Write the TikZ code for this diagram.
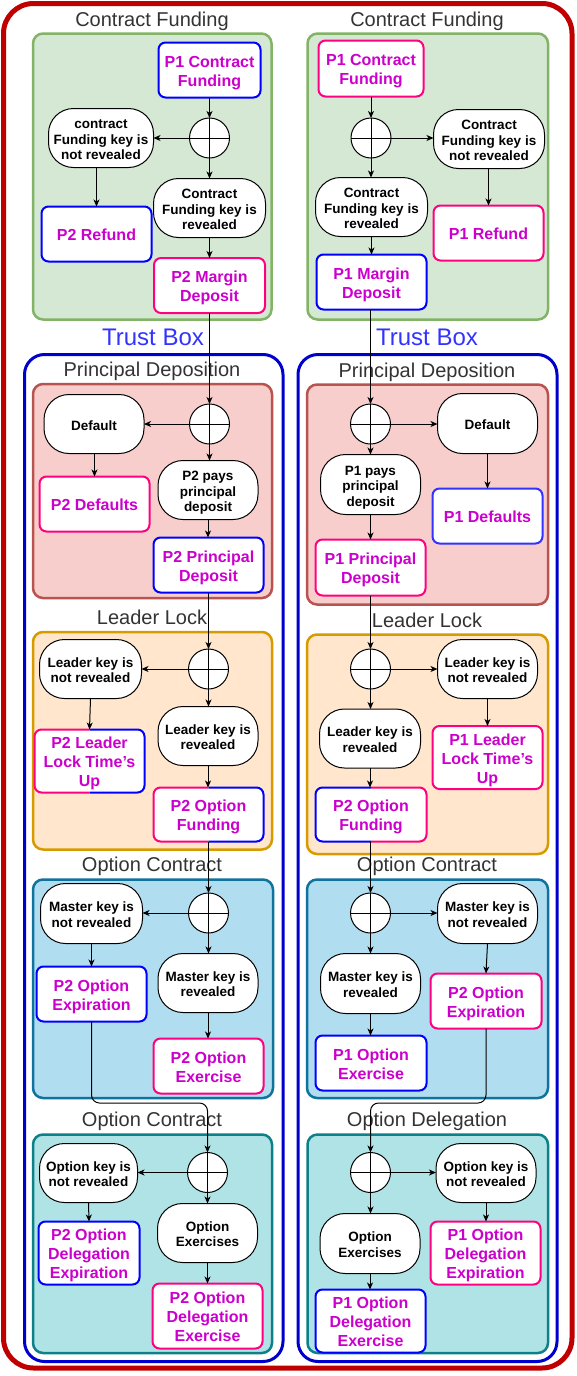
\documentclass[tikz,border=0pt]{standalone}
\usepackage{fontspec}
\setmainfont{Liberation Sans}
\usetikzlibrary{arrows.meta}
\definecolor{mag}{HTML}{CC00CC}
\definecolor{bluec}{HTML}{0000FF}
\definecolor{lblue}{HTML}{3333FF}
\definecolor{pinkc}{HTML}{FF0080}
\definecolor{outerred}{HTML}{C00000}
\definecolor{tbblue}{HTML}{0000CC}
\definecolor{tbtext}{HTML}{3333FF}
\definecolor{titlegray}{HTML}{333333}
\definecolor{gfill}{HTML}{D5E8D4}\definecolor{gline}{HTML}{82B366}
\definecolor{rfill}{HTML}{F8CECC}\definecolor{rline}{HTML}{B85450}
\definecolor{ofill}{HTML}{FFE6CC}\definecolor{oline}{HTML}{D79B00}
\definecolor{bfill}{HTML}{B1DDF0}\definecolor{bline}{HTML}{10739E}
\definecolor{tfill}{HTML}{B0E3E6}\definecolor{tline}{HTML}{0E8088}
% node text: extra height on top lowers the centred text block by 3pt
\newcommand\bt[1]{\raisebox{0pt}[\dimexpr\height+6pt\relax][\depth]{\begin{tabular}{@{}c@{}}#1\end{tabular}}}
\newcommand\ot[1]{\raisebox{0pt}[\dimexpr\height+6pt\relax][\depth]{\begin{tabular}{@{}c@{}}#1\end{tabular}}}
\newcommand\splitborder[3]{%
  \begin{scope}
    \clip ([shift={(-4,-4)}]#1.north west) rectangle ([shift={(0,4)}]#1.south);
    \draw[draw=#2, line width=2pt, rounded corners=7pt] (#1.north west) rectangle (#1.south east);
  \end{scope}
  \begin{scope}
    \clip ([shift={(0,-4)}]#1.north) rectangle ([shift={(4,4)}]#1.south east);
    \draw[draw=#3, line width=2pt, rounded corners=7pt] (#1.north west) rectangle (#1.south east);
  \end{scope}}
\begin{document}
\begin{tikzpicture}[x=1pt,y=-1pt,
  grptitle/.style={font=\fontsize{20}{24}\selectfont, text=titlegray, inner sep=0pt, anchor=base},
  tbtitle/.style={font=\fontsize{24}{28}\selectfont, text=tbtext, inner sep=0pt, anchor=base},
  grp/.style={rounded corners=10pt, line width=2.5pt},
  box/.style={rectangle, rounded corners=7pt, fill=white, line width=2pt,
    font=\bfseries\fontsize{16}{19}\selectfont, text=mag, minimum width=110pt,
    minimum height=55pt, inner sep=0pt, outer sep=0pt},
  oval/.style={rectangle, rounded corners=25pt, fill=white, draw=black, line width=1pt,
    font=\bfseries\fontsize{13.5}{15.5}\selectfont, minimum width=100pt,
    minimum height=59pt, inner sep=0pt, outer sep=0pt},
  xorn/.style={circle, draw=black, fill=white, line width=1pt, minimum size=40pt,
    inner sep=0pt, outer sep=0pt,
    path picture={\draw[line width=0.8pt] (path picture bounding box.north) -- (path picture bounding box.south)
      (path picture bounding box.west) -- (path picture bounding box.east);}},
  conn/.style={draw=black, line width=1pt, -{Stealth[length=7pt,width=6pt,inset=2pt]}}]
\useasboundingbox (0,0) rectangle (577,1376);
\fill[white] (0,0) rectangle (577,1376);
% outer frame
\draw[draw=outerred, line width=5pt, rounded corners=30pt] (3.5,3.5) rectangle (572,1368);
% trust boxes
\draw[draw=tbblue, line width=3pt, rounded corners=20pt] (24.5,354.5) rectangle (283,1361.5);
\draw[draw=tbblue, line width=3pt, rounded corners=20pt] (298,354.5) rectangle (557,1361.5);
\node[tbtitle] (tbl) at (153,345) {Trust Box};
\node[tbtitle] (tbr) at (427,345) {Trust Box};
% group containers
\draw[grp, fill=gfill, draw=gline] (33,33.5) rectangle (271.5,319.5);
\draw[grp, fill=gfill, draw=gline] (307.5,33.5) rectangle (548,319.5);
\draw[grp, fill=rfill, draw=rline] (33,384) rectangle (272,598);
\draw[grp, fill=rfill, draw=rline] (307,384.5) rectangle (548,604.5);
\draw[grp, fill=ofill, draw=oline] (33,632) rectangle (272,849.5);
\draw[grp, fill=ofill, draw=oline] (307,634.5) rectangle (548,854);
\draw[grp, fill=bfill, draw=bline] (33,879.5) rectangle (273,1098);
\draw[grp, fill=bfill, draw=bline] (307,879.5) rectangle (548,1098);
\draw[grp, fill=tfill, draw=tline] (33,1134.5) rectangle (272,1353);
\draw[grp, fill=tfill, draw=tline] (307.5,1134.5) rectangle (548,1353);
% titles
\node[grptitle] (t1l) at (152,26) {Contract Funding};
\node[grptitle] (t1r) at (427,26) {Contract Funding};
\node[grptitle] (t2l) at (152,376) {Principal Deposition};
\node[grptitle] (t2r) at (427,377) {Principal Deposition};
\node[grptitle] (t3l) at (152,624) {Leader Lock};
\node[grptitle] (t3r) at (427,627) {Leader Lock};
\node[grptitle] (t4l) at (152,871) {Option Contract};
\node[grptitle] (t4r) at (427,871) {Option Contract};
\node[grptitle] (t5l) at (152,1126) {Option Contract};
\node[grptitle] (t5r) at (427,1126) {Option Delegation};

% ===== LEFT COLUMN =====
% Contract Funding
\node[box, draw=bluec, minimum width=102pt, minimum height=55pt] (lP1CF) at (209.5,70) {\bt{P1 Contract\\Funding}};
\node[xorn] (lX1) at (209.5,138) {};
\node[oval, minimum width=105pt] (lE1n) at (101,138) {\ot{contract\\Funding key is\\not revealed}};
\node[oval, minimum width=112pt] (lE1r) at (209.5,208) {\ot{Contract\\Funding key is\\revealed}};
\node[box, draw=bluec] (lRef) at (96.5,234) {\bt{P2 Refund}};
\node[box, draw=pinkc, minimum width=111pt] (lMD) at (209.5,285.5) {\bt{P2 Margin\\Deposit}};
% Principal Deposition
\node[xorn] (lX2) at (209.5,424) {};
\node[oval] (lDef) at (94,424) {\ot{Default}};
\node[oval] (lPays) at (208,490) {\ot{P2 pays\\principal\\deposit}};
\node[box, draw=pinkc] (lDefs) at (94.5,504) {\bt{P2 Defaults}};
\node[box, draw=bluec] (lPD) at (208.5,565) {\bt{P2 Principal\\Deposit}};
% Leader Lock
\node[xorn] (lX3) at (208.5,669) {};
\node[oval, minimum width=102pt] (lLn) at (90.5,669) {\ot{Leader key is\\not revealed}};
\node[oval] (lLr) at (208,736) {\ot{Leader key is\\revealed}};
\node[box, draw=none] (lLT) at (89.5,761) {\bt{P2 Leader\\Lock Time's\\Up}};
\splitborder{lLT}{pinkc}{bluec}
\node[box, draw=none, minimum height=54pt] (lOF) at (208.5,814.5) {\bt{P2 Option\\Funding}};
\splitborder{lOF}{pinkc}{bluec}
% Option Contract
\node[xorn] (lX4) at (208.5,913) {};
\node[oval, minimum width=102pt, minimum height=60pt] (lMn) at (91.5,913.5) {\ot{Master key is\\not revealed}};
\node[oval] (lMr) at (208,983) {\ot{Master key is\\revealed}};
\node[box, draw=bluec] (lOE) at (91.5,994) {\bt{P2 Option\\Expiration}};
\node[box, draw=pinkc] (lOX) at (208.5,1066) {\bt{P2 Option\\Exercise}};
% Option Contract (delegation)
\node[xorn] (lX5) at (207.5,1172.5) {};
\node[oval, minimum width=98pt] (lOn) at (88.5,1173) {\ot{Option key is\\not revealed}};
\node[oval] (lOXs) at (207.5,1233) {\ot{Option\\Exercises}};
\node[box, draw=bluec, minimum width=101pt, minimum height=59pt] (lODE) at (89,1253) {\bt{P2 Option\\Delegation\\Expiration}};
\node[box, draw=pinkc, minimum height=65pt] (lODX) at (207.5,1316) {\bt{P2 Option\\Delegation\\Exercise}};

% ===== RIGHT COLUMN =====
\node[box, draw=pinkc, minimum width=105pt, minimum height=56pt] (rP1CF) at (371,68.5) {\bt{P1 Contract\\Funding}};
\node[xorn] (rX1) at (371,138) {};
\node[oval, minimum width=111pt] (rE1n) at (489,139) {\ot{Contract\\Funding key is\\not revealed}};
\node[oval, minimum width=112pt] (rE1r) at (371.5,207) {\ot{Contract\\Funding key is\\revealed}};
\node[box, draw=pinkc] (rRef) at (488.5,233) {\bt{P1 Refund}};
\node[box, draw=bluec] (rMD) at (371.5,282) {\bt{P1 Margin\\Deposit}};
% Principal Deposition
\node[xorn] (rX2) at (370.5,424) {};
\node[oval, minimum height=60pt] (rDef) at (487.5,423.5) {\ot{Default}};
\node[oval, minimum height=60pt] (rPays) at (370.5,484.5) {\ot{P1 pays\\principal\\deposit}};
\node[box, draw=lblue] (rDefs) at (487.5,516) {\bt{P1 Defaults}};
\node[box, draw=pinkc, minimum height=56pt] (rPD) at (370.5,567.5) {\bt{P1 Principal\\Deposit}};
% Leader Lock
\node[xorn] (rX3) at (370.5,669) {};
\node[oval] (rLn) at (487.5,669) {\ot{Leader key is\\not revealed}};
\node[oval, minimum width=101pt] (rLr) at (370,738.5) {\ot{Leader key is\\revealed}};
\node[box, draw=pinkc, minimum height=56pt] (rLT) at (487.5,757.5) {\bt{P1 Leader\\Lock Time's\\Up}};
\node[box, draw=none, minimum width=111pt, minimum height=54pt] (rOF) at (371,814.5) {\bt{P2 Option\\Funding}};
\splitborder{rOF}{bluec}{pinkc}
% Option Contract
\node[xorn] (rX4) at (370.5,913) {};
\node[oval, minimum height=60pt] (rMn) at (487.5,913.5) {\ot{Master key is\\not revealed}};
\node[oval, minimum height=60pt] (rMr) at (370.5,983.5) {\ot{Master key is\\revealed}};
\node[box, draw=pinkc, minimum width=111pt] (rOE) at (486,1001) {\bt{P2 Option\\Expiration}};
\node[box, draw=bluec, minimum width=111pt] (rOX) at (371,1063) {\bt{P1 Option\\Exercise}};
% Option Delegation
\node[xorn] (rX5) at (370.5,1172.5) {};
\node[oval] (rOn) at (486,1173) {\ot{Option key is\\not revealed}};
\node[oval, minimum height=60pt] (rOXs) at (370,1243.5) {\ot{Option\\Exercises}};
\node[box, draw=pinkc, minimum height=59pt] (rODE) at (485.5,1253) {\bt{P1 Option\\Delegation\\Expiration}};
\node[box, draw=bluec] (rODX) at (370.5,1321) {\bt{P1 Option\\Delegation\\Exercise}};

\coordinate (lbend) at (207.5,1103);
\coordinate (rbend) at (370.5,1103);

% ===== CONNECTORS LEFT =====
\draw[conn] (lX1.north |- lP1CF.south) -- (lX1.north);
\draw[conn] (lX1.west) -- (lX1.west -| lE1n.east);
\draw[conn] (lX1.south) -- (lX1.south |- lE1r.north);
\draw[conn] (lE1n.south -| lRef.north) -- (lRef.north);
\draw[conn] (lE1r.south) -- (lE1r.south |- lMD.north);
\draw[conn] (lX2.north |- lMD.south) -- (lX2.north);
\draw[conn] (lX2.west) -- (lX2.west -| lDef.east);
\draw[conn] (lX2.south) -- (lX2.south |- lPays.north);
\draw[conn] (lDef.south -| lDefs.north) -- (lDefs.north);
\draw[conn] (lPays.south) -- (lPays.south |- lPD.north);
\draw[conn] (lX3.north |- lPD.south) -- (lX3.north);
\draw[conn] (lX3.west) -- (lX3.west -| lLn.east);
\draw[conn] (lX3.south) -- (lX3.south |- lLr.north);
\draw[conn] (lLn.south) -- (lLT.north);
\draw[conn] (lLr.south) -- (lLr.south |- lOF.north);
\draw[conn] (lX4.north |- lOF.south) -- (lX4.north);
\draw[conn] (lX4.west) -- (lX4.west -| lMn.east);
\draw[conn] (lX4.south) -- (lX4.south |- lMr.north);
\draw[conn] (lMn.south) -- (lOE.north);
\draw[conn] (lMr.south) -- (lMr.south |- lOX.north);
\draw[conn, rounded corners=8pt] (lOE.south) |- (lbend) -- (lX5.north);
\draw[conn] (lX5.west) -- (lX5.west -| lOn.east);
\draw[conn] (lX5.south) -- (lX5.south |- lOXs.north);
\draw[conn] (lOn.south) -- (lODE.north);
\draw[conn] (lOXs.south) -- (lOXs.south |- lODX.north);

% ===== CONNECTORS RIGHT =====
\draw[conn] (rX1.north |- rP1CF.south) -- (rX1.north);
\draw[conn] (rX1.east) -- (rX1.east -| rE1n.west);
\draw[conn] (rX1.south) -- (rX1.south |- rE1r.north);
\draw[conn] (rE1n.south -| rRef.north) -- (rRef.north);
\draw[conn] (rE1r.south) -- (rE1r.south |- rMD.north);
\draw[conn] (rX2.north |- rMD.south) -- (rX2.north);
\draw[conn] (rX2.east) -- (rX2.east -| rDef.west);
\draw[conn] (rX2.south) -- (rX2.south |- rPays.north);
\draw[conn] (rDef.south) -- (rDef.south |- rDefs.north);
\draw[conn] (rPays.south) -- (rPays.south |- rPD.north);
\draw[conn] (rX3.north |- rPD.south) -- (rX3.north);
\draw[conn] (rX3.east) -- (rX3.east -| rLn.west);
\draw[conn] (rX3.south) -- (rX3.south |- rLr.north);
\draw[conn] (rLn.south) -- (rLn.south |- rLT.north);
\draw[conn] (rLr.south) -- (rLr.south |- rOF.north);
\draw[conn] (rX4.north |- rOF.south) -- (rX4.north);
\draw[conn] (rX4.east) -- (rX4.east -| rMn.west);
\draw[conn] (rX4.south) -- (rX4.south |- rMr.north);
\draw[conn] (rMn.south) -- (rOE.north);
\draw[conn] (rMr.south) -- (rMr.south |- rOX.north);
\draw[conn, rounded corners=8pt] (rOE.south) |- (rbend) -- (rX5.north);
\draw[conn] (rX5.east) -- (rX5.east -| rOn.west);
\draw[conn] (rX5.south) -- (rX5.south |- rOXs.north);
\draw[conn] (rOn.south) -- (rOn.south |- rODE.north);
\draw[conn] (rOXs.south) -- (rOXs.south |- rODX.north);
\end{tikzpicture}
\end{document}
